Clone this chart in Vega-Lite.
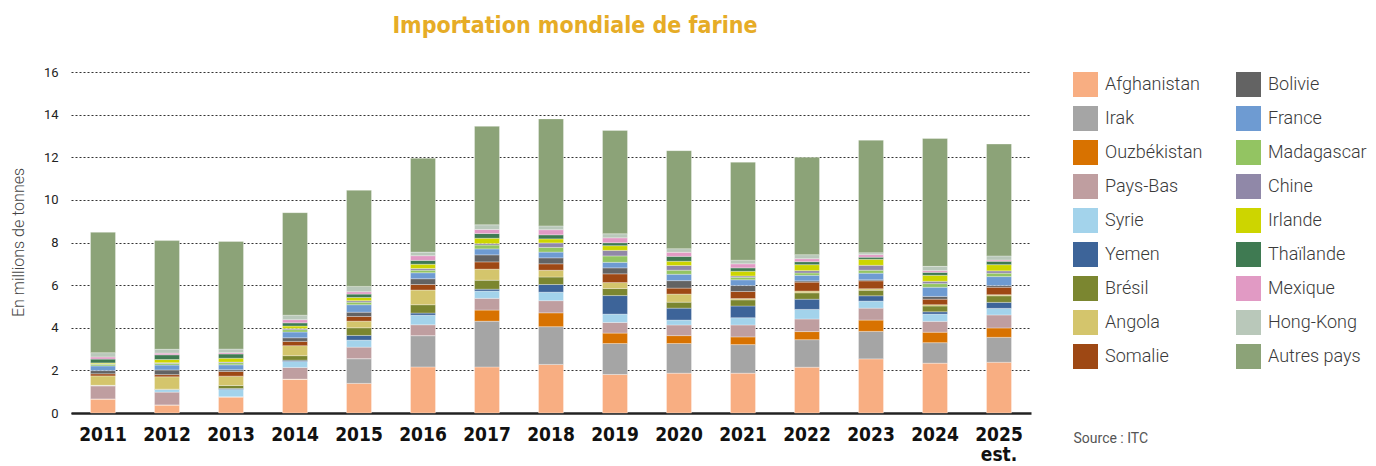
{
  "$schema": "https://vega.github.io/schema/vega-lite/v6.json",
  "width": 960,
  "height": 341,
  "autosize": {"type": "none"},
  "padding": {"left": 71, "top": 72, "right": 345, "bottom": 53},
  "background": "white",
  "title": {
    "text": "Importation mondiale de farine",
    "font": "DejaVu Sans Condensed, sans-serif",
    "fontSize": 23,
    "fontWeight": "bold",
    "color": "#E6AC26",
    "anchor": "middle",
    "frame": "group",
    "dx": 24,
    "offset": 28
  },
  "data": {
    "values": [
      {"annee": "2011", "Afghanistan": 0.66, "Irak": 0, "Ouzbékistan": 0, "Pays-Bas": 0.61, "Syrie": 0.03, "Yemen": 0, "Brésil": 0, "Angola": 0.44, "Somalie": 0.1, "Bolivie": 0.15, "France": 0.22, "Madagascar": 0.08, "Chine": 0.02, "Irlande": 0.04, "Thaïlande": 0.18, "Mexique": 0.1, "Hong-Kong": 0.2, "Autres pays": 5.65},
      {"annee": "2012", "Afghanistan": 0.38, "Irak": 0, "Ouzbékistan": 0, "Pays-Bas": 0.6, "Syrie": 0.12, "Yemen": 0, "Brésil": 0.02, "Angola": 0.58, "Somalie": 0.1, "Bolivie": 0.22, "France": 0.23, "Madagascar": 0.08, "Chine": 0.03, "Irlande": 0.15, "Thaïlande": 0.22, "Mexique": 0.08, "Hong-Kong": 0.18, "Autres pays": 5.1},
      {"annee": "2013", "Afghanistan": 0.76, "Irak": 0, "Ouzbékistan": 0, "Pays-Bas": 0, "Syrie": 0.34, "Yemen": 0.05, "Brésil": 0.14, "Angola": 0.44, "Somalie": 0.22, "Bolivie": 0.08, "France": 0.23, "Madagascar": 0.1, "Chine": 0.03, "Irlande": 0.18, "Thaïlande": 0.2, "Mexique": 0.06, "Hong-Kong": 0.17, "Autres pays": 5.05},
      {"annee": "2014", "Afghanistan": 1.59, "Irak": 0, "Ouzbékistan": 0, "Pays-Bas": 0.55, "Syrie": 0.28, "Yemen": 0.06, "Brésil": 0.21, "Angola": 0.47, "Somalie": 0.2, "Bolivie": 0.17, "France": 0.27, "Madagascar": 0.11, "Chine": 0.06, "Irlande": 0.11, "Thaïlande": 0.15, "Mexique": 0.15, "Hong-Kong": 0.21, "Autres pays": 4.81},
      {"annee": "2015", "Afghanistan": 1.39, "Irak": 1.16, "Ouzbékistan": 0, "Pays-Bas": 0.54, "Syrie": 0.33, "Yemen": 0.22, "Brésil": 0.36, "Angola": 0.31, "Somalie": 0.22, "Bolivie": 0.2, "France": 0.35, "Madagascar": 0.12, "Chine": 0.07, "Irlande": 0.15, "Thaïlande": 0.16, "Mexique": 0.11, "Hong-Kong": 0.25, "Autres pays": 4.51},
      {"annee": "2016", "Afghanistan": 2.16, "Irak": 1.47, "Ouzbékistan": 0, "Pays-Bas": 0.51, "Syrie": 0.45, "Yemen": 0.1, "Brésil": 0.39, "Angola": 0.69, "Somalie": 0.26, "Bolivie": 0.27, "France": 0.28, "Madagascar": 0.12, "Chine": 0.08, "Irlande": 0.2, "Thaïlande": 0.18, "Mexique": 0.22, "Hong-Kong": 0.17, "Autres pays": 4.4},
      {"annee": "2017", "Afghanistan": 2.16, "Irak": 2.15, "Ouzbékistan": 0.52, "Pays-Bas": 0.55, "Syrie": 0.34, "Yemen": 0.09, "Brésil": 0.42, "Angola": 0.52, "Somalie": 0.34, "Bolivie": 0.33, "France": 0.28, "Madagascar": 0.18, "Chine": 0.07, "Irlande": 0.25, "Thaïlande": 0.22, "Mexique": 0.19, "Hong-Kong": 0.22, "Autres pays": 4.62},
      {"annee": "2018", "Afghanistan": 2.28, "Irak": 1.77, "Ouzbékistan": 0.65, "Pays-Bas": 0.57, "Syrie": 0.4, "Yemen": 0.36, "Brésil": 0.35, "Angola": 0.32, "Somalie": 0.3, "Bolivie": 0.28, "France": 0.27, "Madagascar": 0.22, "Chine": 0.21, "Irlande": 0.19, "Thaïlande": 0.19, "Mexique": 0.24, "Hong-Kong": 0.18, "Autres pays": 5.02},
      {"annee": "2019", "Afghanistan": 1.81, "Irak": 1.45, "Ouzbékistan": 0.49, "Pays-Bas": 0.5, "Syrie": 0.39, "Yemen": 0.87, "Brésil": 0.33, "Angola": 0.28, "Somalie": 0.41, "Bolivie": 0.28, "France": 0.26, "Madagascar": 0.3, "Chine": 0.26, "Irlande": 0.22, "Thaïlande": 0.14, "Mexique": 0.23, "Hong-Kong": 0.19, "Autres pays": 4.85},
      {"annee": "2020", "Afghanistan": 1.87, "Irak": 1.39, "Ouzbékistan": 0.37, "Pays-Bas": 0.5, "Syrie": 0.23, "Yemen": 0.56, "Brésil": 0.28, "Angola": 0.38, "Somalie": 0.28, "Bolivie": 0.35, "France": 0.3, "Madagascar": 0.19, "Chine": 0.22, "Irlande": 0.2, "Thaïlande": 0.23, "Mexique": 0.19, "Hong-Kong": 0.17, "Autres pays": 4.6},
      {"annee": "2021", "Afghanistan": 1.87, "Irak": 1.34, "Ouzbékistan": 0.36, "Pays-Bas": 0.56, "Syrie": 0.34, "Yemen": 0.55, "Brésil": 0.29, "Angola": 0.06, "Somalie": 0.33, "Bolivie": 0.28, "France": 0.27, "Madagascar": 0.12, "Chine": 0.06, "Irlande": 0.22, "Thaïlande": 0.16, "Mexique": 0.19, "Hong-Kong": 0.17, "Autres pays": 4.6},
      {"annee": "2022", "Afghanistan": 2.15, "Irak": 1.29, "Ouzbékistan": 0.38, "Pays-Bas": 0.59, "Syrie": 0.45, "Yemen": 0.48, "Brésil": 0.3, "Angola": 0.08, "Somalie": 0.42, "Bolivie": 0.06, "France": 0.26, "Madagascar": 0.11, "Chine": 0.11, "Irlande": 0.28, "Thaïlande": 0.14, "Mexique": 0.14, "Hong-Kong": 0.19, "Autres pays": 4.57},
      {"annee": "2023", "Afghanistan": 2.54, "Irak": 1.29, "Ouzbékistan": 0.53, "Pays-Bas": 0.56, "Syrie": 0.33, "Yemen": 0.25, "Brésil": 0.26, "Angola": 0.07, "Somalie": 0.37, "Bolivie": 0.05, "France": 0.31, "Madagascar": 0.14, "Chine": 0.23, "Irlande": 0.28, "Thaïlande": 0.1, "Mexique": 0.12, "Hong-Kong": 0.09, "Autres pays": 5.28},
      {"annee": "2024", "Afghanistan": 2.34, "Irak": 0.96, "Ouzbékistan": 0.49, "Pays-Bas": 0.51, "Syrie": 0.34, "Yemen": 0.11, "Brésil": 0.27, "Angola": 0.06, "Somalie": 0.26, "Bolivie": 0.13, "France": 0.43, "Madagascar": 0.17, "Chine": 0.11, "Irlande": 0.28, "Thaïlande": 0.14, "Mexique": 0.08, "Hong-Kong": 0.2, "Autres pays": 6.0},
      {"annee": "2025", "Afghanistan": 2.38, "Irak": 1.17, "Ouzbékistan": 0.44, "Pays-Bas": 0.61, "Syrie": 0.31, "Yemen": 0.28, "Brésil": 0.31, "Angola": 0.05, "Somalie": 0.35, "Bolivie": 0.08, "France": 0.42, "Madagascar": 0.16, "Chine": 0.11, "Irlande": 0.29, "Thaïlande": 0.16, "Mexique": 0.06, "Hong-Kong": 0.19, "Autres pays": 5.25}
    ]
  },
  "transform": [
    {"fold": ["Afghanistan", "Irak", "Ouzbékistan", "Pays-Bas", "Syrie", "Yemen", "Brésil", "Angola", "Somalie", "Bolivie", "France", "Madagascar", "Chine", "Irlande", "Thaïlande", "Mexique", "Hong-Kong", "Autres pays"], "as": ["pays", "valeur"]},
    {"window": [{"op": "row_number", "as": "rang"}], "groupby": ["annee"]}
  ],
  "mark": {"type": "bar", "stroke": "white", "strokeWidth": 0.6, "strokeOpacity": 0.5},
  "encoding": {
    "x": {
      "field": "annee",
      "type": "nominal",
      "scale": {"paddingInner": 0.61, "paddingOuter": 0.305},
      "axis": {
        "domain": true,
        "domainColor": "#222",
        "domainWidth": 2.5,
        "ticks": false,
        "grid": false,
        "labelAngle": 0,
        "labelFont": "DejaVu Sans Condensed, sans-serif",
        "labelFontSize": 19,
        "labelFontWeight": "bold",
        "labelColor": "#111",
        "labelPadding": 12,
        "labelLineHeight": 20,
        "labelBound": false,
        "labelOverlap": false,
        "labelExpr": "datum.value == '2025' ? ['2025', 'est.'] : datum.value",
        "title": "Source : ITC",
        "titleX": 1002,
        "titleY": 25,
        "titleAlign": "left",
        "titleBaseline": "middle",
        "titleFont": "Roboto",
        "titleFontSize": 14,
        "titleFontWeight": "normal",
        "titleColor": "#555"
      }
    },
    "y": {
      "field": "valeur",
      "type": "quantitative",
      "stack": "zero",
      "scale": {"domain": [0, 16], "nice": false},
      "axis": {
        "values": [0, 2, 4, 6, 8, 10, 12, 14, 16],
        "domain": false,
        "ticks": false,
        "grid": true,
        "gridDash": [2, 2],
        "gridColor": "#333",
        "gridWidth": 1,
        "labelFont": "Roboto",
        "labelFontSize": 13,
        "labelColor": "#222",
        "labelPadding": 13,
        "title": "En millions de tonnes",
        "titleFont": "Roboto",
        "titleFontSize": 16,
        "titleFontWeight": 300,
        "titleColor": "#444",
        "titleX": -53,
        "titleY": 170,
        "titleAngle": -90,
        "titleAlign": "center",
        "titleBaseline": "middle"
      }
    },
    "order": {"field": "rang", "type": "quantitative", "sort": "ascending"},
    "color": {
      "field": "pays",
      "type": "nominal",
      "scale": {
        "domain": ["Afghanistan", "Irak", "Ouzbékistan", "Pays-Bas", "Syrie", "Yemen", "Brésil", "Angola", "Somalie", "Bolivie", "France", "Madagascar", "Chine", "Irlande", "Thaïlande", "Mexique", "Hong-Kong", "Autres pays"],
        "range": ["#F8AE82", "#A5A5A5", "#D87200", "#BF9EA0", "#A3D3EB", "#3D6499", "#7B8630", "#D4C56C", "#9E4814", "#636363", "#6E9BD2", "#93C462", "#9088A8", "#CDD500", "#3F7A52", "#E19AC4", "#B9C8BA", "#8CA378"]
      },
      "legend": {
        "orient": "none",
        "legendX": 1002,
        "legendY": 0,
        "columns": 2,
        "title": null,
        "symbolType": "square",
        "symbolSize": 625,
        "symbolStrokeWidth": 0,
        "symbolOpacity": 1,
        "labelFont": "Roboto",
        "labelFontSize": 18,
        "labelFontWeight": 300,
        "labelColor": "#3a3a3a",
        "labelOffset": 7,
        "labelLimit": 220,
        "rowPadding": 9,
        "columnPadding": 33,
        "padding": 0
      }
    }
  },
  "config": {"view": {"stroke": null}}
}
